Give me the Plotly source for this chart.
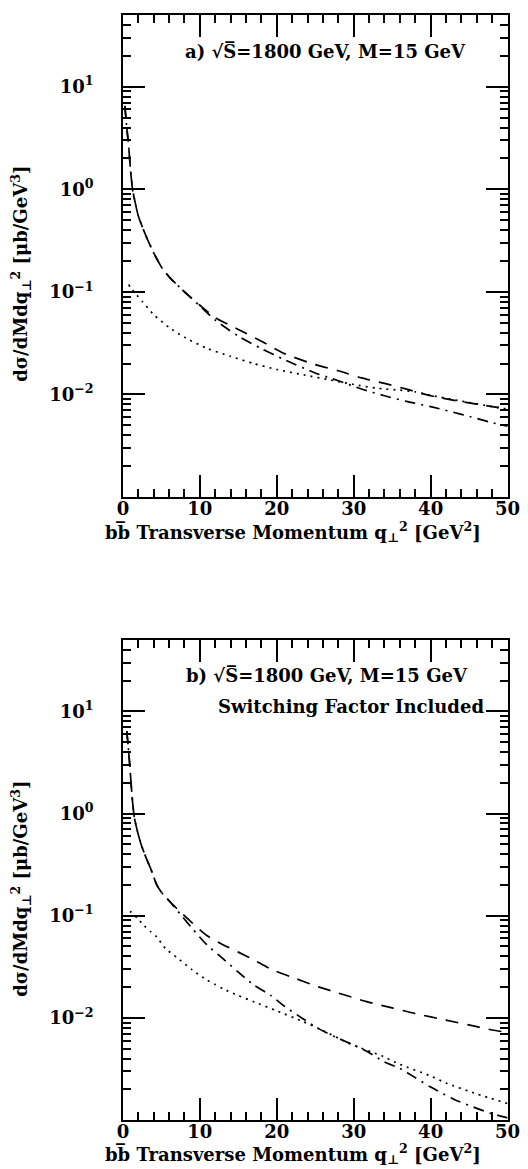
import plotly.graph_objects as go
import math

# ---------------- data ----------------
# Panel a
qa_dash = [0.25, 0.5, 0.75, 1.0, 1.25, 1.5, 2, 3, 4, 5, 6, 8, 10, 12, 15, 18, 21, 25, 28, 31, 34, 37, 40, 44, 48, 50]
a_dash = [6.5, 4.0, 2.6, 1.5, 1.0, 0.8, 0.55, 0.35, 0.24, 0.175, 0.14, 0.10, 0.074, 0.056, 0.043, 0.033, 0.025,
          0.0195, 0.017, 0.0145, 0.0128, 0.0112, 0.0097, 0.0085, 0.0076, 0.0072]
qa_dd = [0.25, 0.5, 0.75, 1.0, 1.25, 1.5, 2, 3, 4, 5, 6, 8, 10, 12, 15, 18, 21, 25, 28, 31, 34, 37, 40, 44, 48, 50]
a_dd = [6.5, 4.0, 2.6, 1.5, 1.0, 0.8, 0.55, 0.35, 0.24, 0.175, 0.14, 0.10, 0.073, 0.053, 0.037, 0.028, 0.0218,
        0.0162, 0.0136, 0.0113, 0.0097, 0.0085, 0.0076, 0.0064, 0.0053, 0.0049]
qa_dot = [0.75, 1.0, 1.75, 2.5, 4, 6, 8, 11, 14, 17, 20, 23.5, 27.5, 30, 33, 36, 38, 40, 44, 48, 50]
a_dot = [0.118, 0.11, 0.094, 0.081, 0.060, 0.045, 0.036, 0.028, 0.0235, 0.020, 0.0175, 0.0155, 0.0136, 0.0125,
         0.0115, 0.0110, 0.0106, 0.0098, 0.0086, 0.0076, 0.0072]

# Panel b
qb_dash = [0.5, 0.75, 0.9, 1.1, 1.25, 1.5, 2, 2.4, 3, 3.6, 4.4, 5, 6, 7.4, 9, 10.9, 13, 15, 17, 19.2, 22, 25.5,
           28, 31.7, 35, 38, 42, 46, 48, 50]
b_dash = [6.4, 4.0, 2.9, 1.8, 1.3, 0.9, 0.62, 0.49, 0.37, 0.29, 0.20, 0.17, 0.14, 0.11, 0.085, 0.064, 0.052, 0.044,
          0.037, 0.030, 0.025, 0.020, 0.0175, 0.0144, 0.0125, 0.011, 0.0095, 0.0082, 0.0076, 0.0072]
qb_dd = [0.5, 0.75, 0.9, 1.1, 1.25, 1.5, 2, 2.4, 3, 3.6, 4.4, 5, 6, 7.4, 9, 10.9, 13, 15, 17, 19.2, 21, 23.4, 25.5,
         27.6, 30, 31.7, 34, 36, 38, 40, 43, 46, 48, 50]
b_dd = [6.4, 4.0, 2.9, 1.8, 1.3, 0.9, 0.62, 0.49, 0.37, 0.29, 0.20, 0.17, 0.14, 0.105, 0.075, 0.052, 0.038, 0.028,
        0.021, 0.0166, 0.013, 0.0098, 0.0078, 0.0065, 0.0054, 0.0047, 0.0037, 0.0032, 0.0026, 0.0021, 0.0016,
        0.0013, 0.00115, 0.00105]
qb_dot = [0.9, 1.1, 1.9, 2.75, 3.6, 4.4, 5.5, 7, 9, 10.9, 12, 13, 15, 17.1, 20, 23.4, 26, 29.7, 33.8, 36, 40, 42,
          46, 50]
b_dot = [0.11, 0.108, 0.094, 0.080, 0.070, 0.062, 0.048, 0.039, 0.0295, 0.0235, 0.0212, 0.0193, 0.0165, 0.0143,
         0.0117, 0.0092, 0.0075, 0.0055, 0.0042, 0.0035, 0.0027, 0.0023, 0.0018, 0.00145]

x_ticks = [0, 10, 20, 30, 40, 50]
x_minor = [2, 4, 6, 8, 12, 14, 16, 18, 22, 24, 26, 28, 32, 34, 36, 38, 42, 44, 46, 48]
y_ticks = [0.01, 0.1, 1, 10]
y_ticktext = ["10<sup>−2</sup>", "10<sup>−1</sup>", "10<sup>0</sup>", "10<sup>1</sup>"]
y_minor = [m * 10 ** e for e in range(-3, 2) for m in range(2, 10) if m * 10 ** e <= 50]

# ---------------- figure ----------------
W, H = 528, 1169
FONT = "DejaVu Serif"
fig = go.Figure()

dash_style = "13px,9px"
dd_style = "11px,6px,2px,6px"
dot_style = "2px,5px"
LW = 1.7

panels = [
    ("x", "y", qa_dash, a_dash, qa_dd, a_dd, qa_dot, a_dot),
    ("x2", "y2", qb_dash, b_dash, qb_dd, b_dd, qb_dot, b_dot),
]
for xa, ya, qd, vd, qdd, vdd, qo, vo in panels:
    fig.add_trace(go.Scatter(x=qd, y=vd, xaxis=xa, yaxis=ya, mode="lines",
                             line=dict(color="black", width=LW, dash=dash_style, shape="spline", smoothing=0.6),
                             showlegend=False))
    fig.add_trace(go.Scatter(x=qdd, y=vdd, xaxis=xa, yaxis=ya, mode="lines",
                             line=dict(color="black", width=LW, dash=dd_style, shape="spline", smoothing=0.6),
                             showlegend=False))
    fig.add_trace(go.Scatter(x=qo, y=vo, xaxis=xa, yaxis=ya, mode="lines",
                             line=dict(color="black", width=LW, dash=dot_style, shape="spline", smoothing=0.6),
                             showlegend=False))

tickfont = dict(family=FONT, size=18, color="black", weight="bold")
xdom = [113 / W, 512 / W]
ydom_a = [(H - 489) / H, (H - 7) / H]
ydom_b = [(H - 1112) / H, (H - 632) / H]

xcommon = dict(range=[0, 50], showline=True, linecolor="black", linewidth=1.6, mirror="ticks",
               ticks="inside", ticklen=22, tickwidth=1.5, tickcolor="black",
               tickmode="array", tickvals=x_ticks, ticktext=[str(v) for v in x_ticks],
               minor=dict(ticks="inside", ticklen=8, tickwidth=1.5, tickcolor="black",
                          tickmode="array", tickvals=x_minor),
               showgrid=False, zeroline=False, tickfont=tickfont, ticklabelstandoff=-5, domain=xdom)
ycommon = dict(type="log", range=[-3, math.log10(50)], showline=True, linecolor="black", linewidth=1.6,
               mirror="ticks", ticks="inside", ticklen=22, tickwidth=1.5, tickcolor="black",
               tickmode="array", tickvals=y_ticks, ticktext=y_ticktext,
               minor=dict(ticks="inside", ticklen=8, tickwidth=1.5, tickcolor="black",
                          tickmode="array", tickvals=y_minor),
               showgrid=False, zeroline=False, tickfont=tickfont, ticklabelstandoff=24)

fig.update_layout(
    width=W, height=H, margin=dict(l=0, r=0, t=0, b=0),
    paper_bgcolor="white", plot_bgcolor="white",
    xaxis=dict(**xcommon, anchor="y"),
    yaxis=dict(**ycommon, domain=ydom_a, anchor="x"),
    xaxis2=dict(**xcommon, anchor="y2"),
    yaxis2=dict(**ycommon, domain=ydom_b, anchor="x2"),
)

afont = dict(family=FONT, size=18, color="black", weight="bold")
xtitle = "bb\u0305 Transverse Momentum q<sub>⊥</sub><sup>2</sup> [GeV<sup>2</sup>]"
ytitle = "dσ/dMdq<sub>⊥</sub><sup>2</sup> [μb/GeV<sup>3</sup>]"

def ann(text, px, py, angle=0):
    fig.add_annotation(text=text, x=px / W, y=1 - py / H, xref="paper", yref="paper",
                       showarrow=False, font=afont, textangle=angle, xanchor="center", yanchor="middle")

ann(xtitle, 289, 524)
ann(xtitle, 289, 1146)
ann(ytitle, 7, 266, -90)
ann(ytitle, 7, 881, -90)
ann("a) √S\u0305=1800 GeV, M=15 GeV", 323, 43)
ann("b) √S\u0305=1800 GeV, M=15 GeV", 325, 667)
ann("Switching Factor Included", 350, 698)

fig.write_html("out.html")
